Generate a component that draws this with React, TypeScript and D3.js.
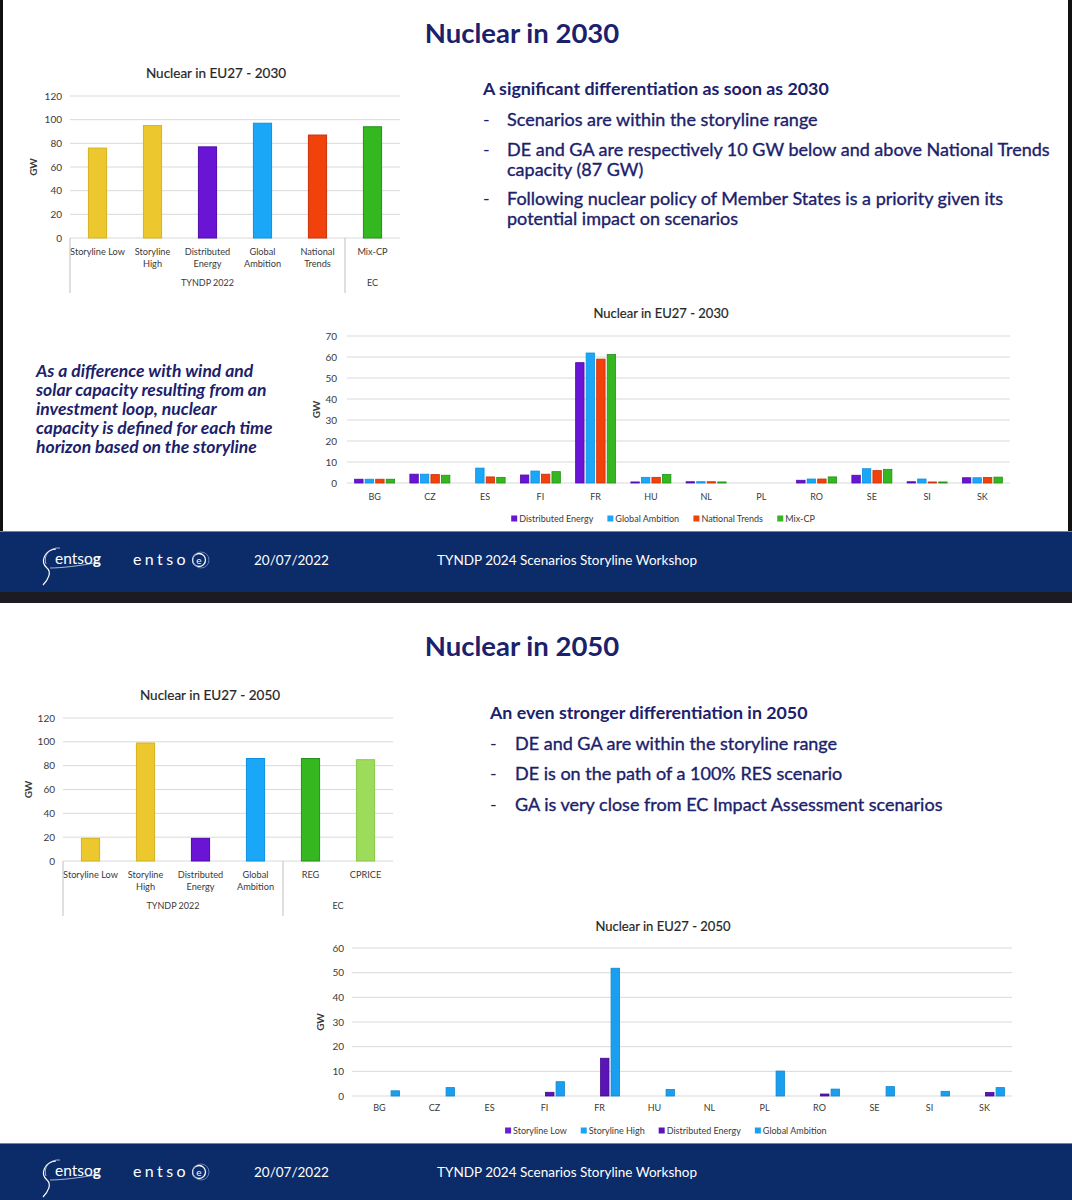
import React from "react";
import * as d3 from "d3";

const FONT = "Lato, 'Open Sans', 'DejaVu Sans', sans-serif";
const TEXT_NAVY = "#1b216b";
const FOOTER_NAVY = "#0b2b69";
const GRID = "#d9d9d9";
const TICK = "#3a3a3a";

// ---------- Summary (EU27 total) 2030 ----------
const summary2030Categories = ["Storyline Low", "Storyline\nHigh", "Distributed\nEnergy", "Global\nAmbition", "National\nTrends", "Mix-CP"];
const summary2030Values = [76, 95, 77, 97, 87, 94];
const summary2030Groups = ["TYNDP 2022", "EC"];
const summary2030GroupSizes = [5, 1];
const summary2030Fill = ["#ecc82e", "#ecc82e", "#6a14d6", "#1aa7f7", "#f2420c", "#35b81f"];
const summary2030Stroke = ["#d6b21e", "#d6b21e", "#4f0aa8", "#0f8fe0", "#c8300a", "#24901a"];
const summaryYTicks = [0, 20, 40, 60, 80, 100, 120];

// ---------- Summary (EU27 total) 2050 ----------
const summary2050Categories = ["Storyline Low", "Storyline\nHigh", "Distributed\nEnergy", "Global\nAmbition", "REG", "CPRICE"];
const summary2050Values = [19, 99, 19, 86, 86, 85];
const summary2050Groups = ["TYNDP 2022", "EC"];
const summary2050GroupSizes = [4, 2];
const summary2050Fill = ["#ecc82e", "#ecc82e", "#6a14d6", "#1aa7f7", "#35b81f", "#9ddc5a"];
const summary2050Stroke = ["#d6b21e", "#d6b21e", "#4f0aa8", "#0f8fe0", "#24901a", "#86c94a"];

// ---------- By country ----------
const countries = ["BG", "CZ", "ES", "FI", "FR", "HU", "NL", "PL", "RO", "SE", "SI", "SK"];

const series2030 = ["Distributed Energy", "Global Ambition", "National Trends", "Mix-CP"];
const de2030 = [1.8, 4.2, 0, 3.8, 57.3, 0.5, 0.6, 0, 1.3, 3.7, 0.6, 2.5];
const ga2030 = [1.8, 4.2, 7.1, 5.7, 61.9, 2.7, 0.6, 0, 1.9, 6.8, 1.9, 2.5];
const nt2030 = [1.8, 4.0, 2.9, 4.2, 59.0, 2.7, 0.6, 0, 1.9, 5.9, 0.5, 2.6];
const mix2030 = [1.8, 3.7, 2.7, 5.4, 61.2, 4.1, 0.5, 0, 2.9, 6.5, 0.5, 2.8];
const country2030Fill = ["#6a14d6", "#1aa7f7", "#f2420c", "#35b81f"];
const country2030Stroke = ["#4f0aa8", "#0f8fe0", "#c8300a", "#24901a"];
const country2030Ticks = [0, 10, 20, 30, 40, 50, 60, 70];

const series2050 = ["Storyline Low", "Storyline High", "Distributed Energy", "Global Ambition"];
const sl2050 = [0, 0, 0, 0, 0, 0, 0, 0, 0, 0, 0, 0];
const sh2050 = [0, 0, 0, 0, 0, 0, 0, 0, 0, 0, 0, 0];
const de2050 = [0, 0, 0, 1.5, 15.3, 0, 0, 0, 0.8, 0, 0, 1.4];
const ga2050 = [2.1, 3.4, 0, 5.8, 51.8, 2.6, 0, 10.1, 2.8, 3.8, 1.9, 3.4];
const country2050Fill = ["#6a1fcf", "#1aa3f5", "#5a14b8", "#1a9ff0"];
const country2050Stroke = ["#4f0aa8", "#0f8fe0", "#410c8a", "#0f86d0"];
const country2050Ticks = [0, 10, 20, 30, 40, 50, 60];

// ---------- Slide texts ----------
const slide1Title = "Nuclear in 2030";
const slide1Headline = "A significant differentiation as soon as 2030";
const slide1Bullets = [
  ["Scenarios are within the storyline range"],
  ["DE and GA are respectively 10 GW below and above National Trends", "capacity (87 GW)"],
  ["Following nuclear policy of Member States is a priority given its", "potential impact on scenarios"],
];
const slide1Note = [
  "As a difference with wind and",
  "solar capacity resulting from an",
  "investment loop, nuclear",
  "capacity is defined for each time",
  "horizon based on the storyline",
];
const slide2Title = "Nuclear in 2050";
const slide2Headline = "An even stronger differentiation in 2050";
const slide2Bullets = [
  ["DE and GA are within the storyline range"],
  ["DE is on the path of a 100% RES scenario"],
  ["GA is very close from EC Impact Assessment scenarios"],
];
const footerDate = "20/07/2022";
const footerTitle = "TYNDP 2024 Scenarios Storyline Workshop";

let measureCtx: CanvasRenderingContext2D | null = null;
function textWidth(t: string, size: number, weight = "normal") {
  if (!measureCtx) measureCtx = document.createElement("canvas").getContext("2d");
  if (!measureCtx) return t.length * size * 0.5;
  measureCtx.font = `${weight} ${size}px Lato`;
  return measureCtx.measureText(t).width;
}

function SummaryChart(p: any) {
  const x = d3.scaleBand<string>().domain(p.categories).range([p.xStart, p.xEnd]).paddingInner(0.67).paddingOuter(0.335);
  const y = d3.scaleLinear().domain([0, p.yMax]).range([p.yZero, p.yTopPx]);
  const step = x.step();
  let acc = 0;
  const groups = p.groups.map((g: string, i: number) => {
    const start = acc;
    acc += p.groupSizes[i];
    return { label: g, start, end: acc };
  });
  const bottom = p.yZero + 55;
  return (
    <g fontFamily={FONT}>
      <text x={p.titleX} y={p.titleY} textAnchor="middle" fontSize={13.5} fill="#262626" stroke="#262626" strokeWidth={0.2}>{p.title}</text>
      {p.ticks.map((t: number) => (
        <g key={t}>
          <line x1={p.xStart} x2={p.xEnd} y1={y(t)} y2={y(t)} stroke={GRID} strokeWidth={1} />
          <text x={p.xStart - 8} y={y(t) + 3.5} textAnchor="end" fontSize={10} fill={TICK}>{t}</text>
        </g>
      ))}
      <text transform={`translate(${p.gwX},${(p.yZero + p.yTopPx) / 2}) rotate(-90)`} textAnchor="middle" fontSize={10} fontWeight="bold" fill={TICK}>GW</text>
      {p.categories.map((c: string, i: number) => {
        const v = p.values[i];
        return (
          <rect key={c} x={x(c)} y={y(v)} width={x.bandwidth()} height={y(0) - y(v)} fill={p.fills[i]} stroke={p.strokes[i]} strokeWidth={1} />
        );
      })}
      {p.categories.map((c: string) => {
        const lines = c.split("\n");
        const cx = (x(c) as number) + x.bandwidth() / 2;
        return (
          <text key={c} x={cx} y={p.yZero + 17} textAnchor="middle" fontSize={9.2} fill={TICK}>
            {lines.map((l, j) => (
              <tspan key={j} x={cx} dy={j === 0 ? 0 : 12}>{l}</tspan>
            ))}
          </text>
        );
      })}
      {groups.map((g: any) => (
        <g key={g.label}>
          <line x1={p.xStart + g.start * step} x2={p.xStart + g.start * step} y1={p.yZero} y2={bottom} stroke="#bfbfbf" strokeWidth={1} />
          <text x={p.xStart + ((g.start + g.end) / 2) * step} y={p.yZero + 48} textAnchor="middle" fontSize={9} fill={TICK}>{g.label}</text>
        </g>
      ))}
    </g>
  );
}

function CountryChart(p: any) {
  const x0 = d3.scaleBand<string>().domain(p.countries).range([p.xStart, p.xEnd]);
  const x1 = d3.scaleBand<string>().domain(p.series).range([-20, 20]).paddingInner(0.2);
  const y = d3.scaleLinear().domain([0, p.yMax]).range([p.yZero, p.yTopPx]);
  const items = p.legendNames.map((n: string) => ({ n, w: 8 + textWidth(n, 9) }));
  const total = d3.sum(items, (d: any) => d.w) + (items.length - 1) * 14;
  let lx = p.legendCx - total / 2;
  const legend = items.map((it: any, i: number) => {
    const node = (
      <g key={it.n}>
        <rect x={lx} y={p.legendY - 3.5} width={6} height={6} fill={p.legendFills[i]} />
        <text x={lx + 8} y={p.legendY + 3} fontSize={9} fill={TICK}>{it.n}</text>
      </g>
    );
    lx += it.w + 14;
    return node;
  });
  return (
    <g fontFamily={FONT}>
      <text x={p.titleX} y={p.titleY} textAnchor="middle" fontSize={13} fill="#262626" stroke="#262626" strokeWidth={0.2}>{p.title}</text>
      {p.ticks.map((t: number) => (
        <g key={t}>
          <line x1={p.xStart} x2={p.xEnd} y1={y(t)} y2={y(t)} stroke={GRID} strokeWidth={1} />
          <text x={p.tickX} y={y(t) + 3.5} textAnchor="end" fontSize={10} fill={TICK}>{t}</text>
        </g>
      ))}
      <text transform={`translate(${p.gwX},${(p.yZero + p.yTopPx) / 2}) rotate(-90)`} textAnchor="middle" fontSize={10} fontWeight="bold" fill={TICK}>GW</text>
      {p.countries.map((c: string, ci: number) => {
        const cx = (x0(c) as number) + x0.bandwidth() / 2;
        return (
          <g key={c}>
            {p.series.map((s: string, si: number) => {
              const v = p.values[si][ci];
              if (!v) return null;
              return (
                <rect key={s} x={cx + (x1(s) as number)} y={y(v)} width={x1.bandwidth()} height={y(0) - y(v)} fill={p.fills[si]} stroke={p.strokes[si]} strokeWidth={0.8} />
              );
            })}
            <text x={cx} y={p.labelY} textAnchor="middle" fontSize={9} fill={TICK}>{c}</text>
          </g>
        );
      })}
      {legend}
    </g>
  );
}

function Footer({ top, height }: { top: number; height: number }) {
  const cy = top + 29;
  return (
    <g fontFamily={FONT}>
      <rect x={0} y={top} width={1072} height={height} fill={FOOTER_NAVY} />
      <line x1={0} x2={1072} y1={top + 0.5} y2={top + 0.5} stroke="#6f83b8" strokeWidth={1} />
      {/* entsog logo */}
      <path d={`M56,${cy - 11} C44,${cy - 10} 40,${cy + 2} 47,${cy + 8} C52,${cy + 12} 48,${cy + 20} 43,${cy + 25}`} fill="none" stroke="#ffffff" strokeWidth={1.2} />
      <path d={`M60,${cy - 12} C49,${cy - 13} 43,${cy - 4} 46,${cy + 4}`} fill="none" stroke="#cfd8ee" strokeWidth={0.8} />
      <path d={`M50,${cy + 8} C60,${cy + 8} 80,${cy + 6} 100,${cy + 2}`} fill="none" stroke="#cfd8ee" strokeWidth={0.8} />
      <text x={55} y={cy + 4} fontSize={15.5} fill="#ffffff">entso<tspan fontWeight="bold">g</tspan></text>
      {/* entsoe logo */}
      <text x={133} y={cy + 5} fontSize={16} letterSpacing={3.4} fill="#ffffff">entso</text>
      <circle cx={199} cy={cy} r={6.5} fill="none" stroke="#ffffff" strokeWidth={1.3} />
      <circle cx={201} cy={cy} r={8} fill="none" stroke="#7d8fc4" strokeWidth={0.8} />
      <text x={199} y={cy + 3.5} textAnchor="middle" fontSize={10} fill="#ffffff">e</text>
      <text x={254} y={cy + 5} fontSize={13.5} fill="#ffffff">{footerDate}</text>
      <text x={437} y={cy + 5} fontSize={13.5} fill="#ffffff">{footerTitle}</text>
    </g>
  );
}

function BulletBlock({ x, textX, headlineY, headline, bullets, lineStarts }: any) {
  return (
    <g fontFamily={FONT} fill={TEXT_NAVY}>
      <text x={x} y={headlineY} fontSize={17.8} fontWeight="bold">{headline}</text>
      {bullets.map((b: string[], i: number) => (
        <g key={i}>
          <text x={x} y={lineStarts[i]} fontSize={18}>-</text>
          {b.map((l, j) => (
            <text key={j} x={textX} y={lineStarts[i] + j * 20} fontSize={18} stroke={TEXT_NAVY} strokeWidth={0.35}>{l}</text>
          ))}
        </g>
      ))}
    </g>
  );
}

export default function App() {
  return (
    <svg width={1072} height={1200} style={{ position: "absolute", left: 0, top: 0, background: "#fff" }}>
      <rect x={0} y={0} width={1072} height={1200} fill="#ffffff" />
      {/* slide 1 frame */}
      <rect x={0} y={0} width={3} height={603} fill="#111" />
      <rect x={1068} y={0} width={4} height={603} fill="#111" />

      <text x={522} y={43} textAnchor="middle" fontFamily={FONT} fontWeight="bold" fontSize={27.5} fill={TEXT_NAVY}>{slide1Title}</text>

      <SummaryChart title="Nuclear in EU27 - 2030" titleX={216} titleY={78}
        categories={summary2030Categories} values={summary2030Values}
        fills={summary2030Fill} strokes={summary2030Stroke}
        groups={summary2030Groups} groupSizes={summary2030GroupSizes}
        xStart={70} xEnd={400} yZero={238} yTopPx={96} yMax={120} ticks={summaryYTicks} gwX={37} />

      <BulletBlock x={483} textX={507} headlineY={95} headline={slide1Headline}
        bullets={slide1Bullets} lineStarts={[126, 156, 205]} />

      <g fontFamily={FONT} fontStyle="italic" fontWeight="bold" fontSize={17.5} fill={TEXT_NAVY}>
        {slide1Note.map((l, i) => (
          <text key={i} x={36} y={377 + i * 19}>{l}</text>
        ))}
      </g>

      <CountryChart title="Nuclear in EU27 - 2030" titleX={661} titleY={318}
        countries={countries} series={series2030} values={[de2030, ga2030, nt2030, mix2030]}
        fills={country2030Fill} strokes={country2030Stroke}
        legendNames={series2030} legendFills={country2030Fill} legendCx={663} legendY={519}
        xStart={347} xEnd={1010} yZero={483} yTopPx={336} yMax={70} ticks={country2030Ticks}
        tickX={337} gwX={320} labelY={500} />

      <Footer top={531} height={61} />
      <rect x={0} y={592} width={1072} height={11} fill="#1d1b22" />

      {/* slide 2 */}
      <text x={522} y={656} textAnchor="middle" fontFamily={FONT} fontWeight="bold" fontSize={27.5} fill={TEXT_NAVY}>{slide2Title}</text>

      <SummaryChart title="Nuclear in EU27 - 2050" titleX={210} titleY={700}
        categories={summary2050Categories} values={summary2050Values}
        fills={summary2050Fill} strokes={summary2050Stroke}
        groups={summary2050Groups} groupSizes={summary2050GroupSizes}
        xStart={63} xEnd={393} yZero={861} yTopPx={718} yMax={120} ticks={summaryYTicks} gwX={32} />

      <BulletBlock x={490} textX={515} headlineY={719} headline={slide2Headline}
        bullets={slide2Bullets} lineStarts={[750, 780, 811]} />

      <CountryChart title="Nuclear in EU27 - 2050" titleX={663} titleY={931}
        countries={countries} series={series2050} values={[sl2050, sh2050, de2050, ga2050]}
        fills={country2050Fill} strokes={country2050Stroke}
        legendNames={series2050} legendFills={country2050Fill} legendCx={666} legendY={1131}
        xStart={352} xEnd={1012} yZero={1096} yTopPx={948} yMax={60} ticks={country2050Ticks}
        tickX={344} gwX={324} labelY={1111} />

      <Footer top={1143} height={57} />
    </svg>
  );
}
